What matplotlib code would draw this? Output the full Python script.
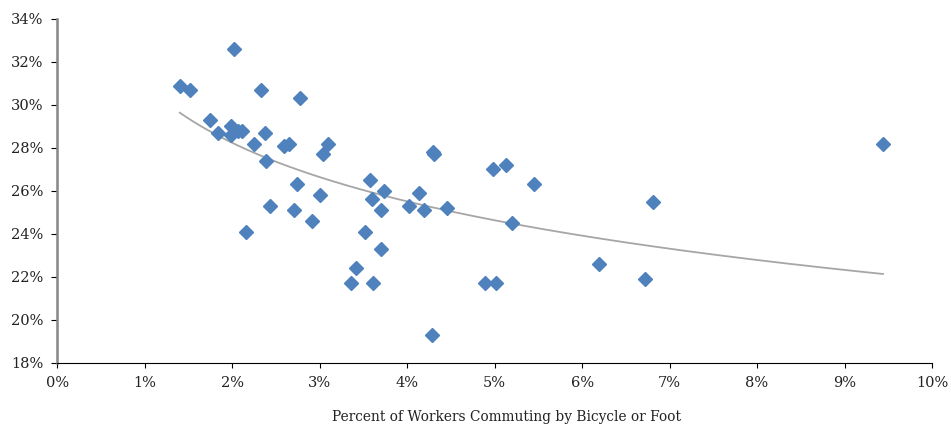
import numpy as np
import matplotlib
matplotlib.use("Agg")
import matplotlib.pyplot as plt
from matplotlib.ticker import FuncFormatter, MultipleLocator

# Share of workers commuting by bicycle or foot (%) vs. outcome rate (%)
walk_bike_pct = [
    1.40, 1.52, 2.02, 2.33, 2.77, 1.75, 1.84, 1.99, 1.99, 2.07,
    2.11, 2.25, 2.37, 2.59, 2.65, 3.10, 3.04, 2.39, 2.16, 2.43,
    2.71, 2.91, 2.74, 3.00, 3.57, 3.73, 3.60, 3.70, 3.52, 3.70,
    3.41, 3.36, 3.61, 4.13, 4.02, 4.19, 4.46, 4.30, 4.31, 4.28,
    4.98, 5.13, 5.45, 5.20, 4.89, 5.01, 6.19, 6.81, 6.72, 9.44,
]
rate_pct = [
    30.9, 30.7, 32.6, 30.7, 30.3, 29.3, 28.7, 29.0, 28.6, 28.8,
    28.8, 28.2, 28.7, 28.1, 28.2, 28.2, 27.7, 27.4, 24.1, 25.3,
    25.1, 24.6, 26.3, 25.8, 26.5, 26.0, 25.6, 25.1, 24.1, 23.3,
    22.4, 21.7, 21.7, 25.9, 25.3, 25.1, 25.2, 27.8, 27.7, 19.3,
    27.0, 27.2, 26.3, 24.5, 21.7, 21.7, 22.6, 25.5, 21.9, 28.2,
]

x = np.array(walk_bike_pct)
y = np.array(rate_pct)

plt.rcParams["font.family"] = ["DejaVu Serif"]

fig = plt.figure(figsize=(9.51, 4.26), dpi=100)
ax = fig.add_axes([0.0603, 0.1486, 0.9197, 0.8068])

# logarithmic trendline
b, a = np.polyfit(np.log(x), y, 1)
xs = np.linspace(x.min(), x.max(), 200)
ax.plot(xs, a + b * np.log(xs), color="#A6A6A6", lw=1.3, zorder=2)

ax.plot(x, y, linestyle="none", marker="D", markersize=6.8,
        color="#4F81BD", markeredgecolor="#4F81BD", zorder=3)

ax.set_xlim(0, 10)
ax.set_ylim(18, 34)
ax.xaxis.set_major_locator(MultipleLocator(1))
ax.yaxis.set_major_locator(MultipleLocator(2))
ax.xaxis.set_major_formatter(FuncFormatter(lambda v, p: f"{v:.0f}%"))
ax.yaxis.set_major_formatter(FuncFormatter(lambda v, p: f"{v:.0f}%"))

for s in ("top", "right"):
    ax.spines[s].set_visible(False)
ax.spines["left"].set_color("#868686")
ax.spines["left"].set_linewidth(1.8)
ax.spines["bottom"].set_color("#000000")
ax.spines["bottom"].set_linewidth(0.8)
ax.tick_params(axis="x", direction="out", length=3.5, width=0.8, color="#000000",
               labelsize=10.5, pad=6, labelcolor="#222222")
ax.tick_params(axis="y", direction="out", length=4, width=0.8, color="#000000",
               labelsize=10.5, pad=6, labelcolor="#222222")

fig.text(506.7 / 951, 1 - 416.5 / 426,
         "Percent of Workers Commuting by Bicycle or Foot",
         ha="center", va="center", fontsize=9.9, color="#222222")

fig.savefig("out.png", dpi=100)
